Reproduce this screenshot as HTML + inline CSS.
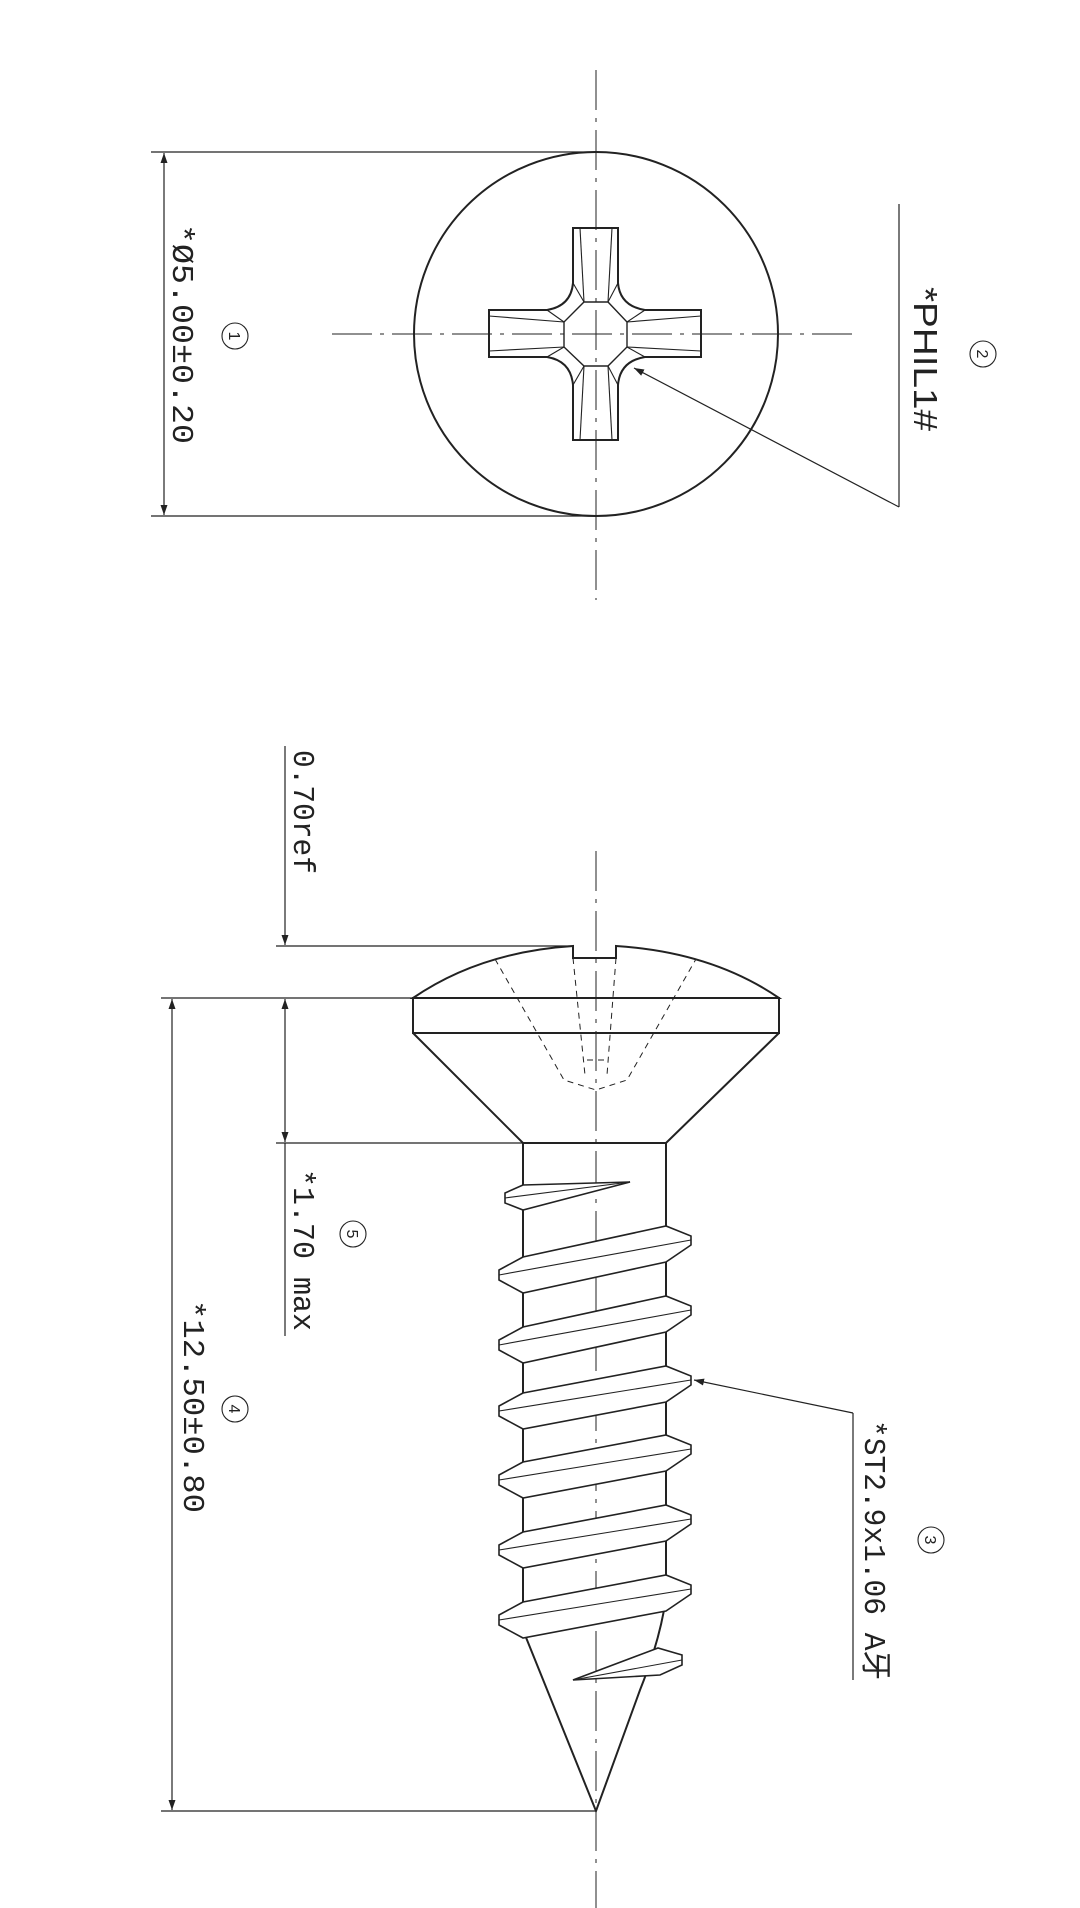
<!DOCTYPE html>
<html><head><meta charset="utf-8"><style>
html,body{margin:0;padding:0;background:#fff;}
svg{display:block;}
text{fill:#222;}
</style></head><body>
<svg width="1080" height="1908" viewBox="0 0 1080 1908" xmlns="http://www.w3.org/2000/svg">
<defs>
<marker id="a" viewBox="0 0 10 10" refX="10" refY="5" markerWidth="10" markerHeight="14" orient="auto-start-reverse" markerUnits="userSpaceOnUse"><path d="M0,1.5 L10,5 L0,8.5 z" fill="#222"/></marker>
</defs>
<g stroke="#222" fill="none" stroke-width="1.6">
<!-- top view -->
<line x1="596" y1="70" x2="596" y2="600" stroke-width="1" stroke-dasharray="40,8,4,8"/>
<line x1="332" y1="334" x2="860" y2="334" stroke-width="1" stroke-dasharray="40,8,4,8"/>
<circle cx="596" cy="334" r="182" stroke-width="2"/>
<path stroke-width="2" d="M573,228 L618,228 L618,283 Q620,306 645,310 L701,310 L701,357 L645,357 Q620,361 618,385 L618,440 L573,440 L573,385 Q571,361 547,357 L489,357 L489,310 L547,310 Q571,306 573,283 Z"/>
<path stroke-width="1.4" d="M584,302 L608,302 L627,322 L627,347 L608,366 L584,366 L564,347 L564,322 Z"/>
<g stroke-width="1.1">
<line x1="580" y1="228" x2="584" y2="302"/><line x1="612" y1="228" x2="608" y2="302"/>
<line x1="580" y1="440" x2="584" y2="366"/><line x1="612" y1="440" x2="608" y2="366"/>
<line x1="489" y1="316" x2="564" y2="322"/><line x1="489" y1="351" x2="564" y2="347"/>
<line x1="701" y1="316" x2="627" y2="322"/><line x1="701" y1="351" x2="627" y2="347"/>
<line x1="573" y1="283" x2="584" y2="302"/><line x1="618" y1="283" x2="608" y2="302"/>
<line x1="573" y1="385" x2="584" y2="366"/><line x1="618" y1="385" x2="608" y2="366"/>
<line x1="547" y1="310" x2="564" y2="322"/><line x1="645" y1="310" x2="627" y2="322"/>
<line x1="547" y1="357" x2="564" y2="347"/><line x1="645" y1="357" x2="627" y2="347"/>
</g>
<line x1="151" y1="152" x2="596" y2="152" stroke-width="1.2"/>
<line x1="151" y1="516" x2="596" y2="516" stroke-width="1.2"/>
<line x1="164" y1="153" x2="164" y2="515" stroke-width="1.2" marker-start="url(#a)" marker-end="url(#a)"/>
<line x1="899" y1="507" x2="634" y2="368" stroke-width="1.2" marker-end="url(#a)"/>
<line x1="899" y1="204" x2="899" y2="507" stroke-width="1.2"/>

<!-- side view -->
<line x1="596" y1="851" x2="596" y2="1908" stroke-width="1" stroke-dasharray="40,8,4,8"/>
<path stroke-width="2" d="M413,998 Q480,952 573,946 L573,958 L616,958 L616,946 Q712,952 779,998 Z"/>
<rect x="413" y="998" width="366" height="35" stroke-width="2"/>
<path stroke-width="2" d="M413,1033 L523,1143 L666,1143 L779,1033"/>
<g stroke-width="1" stroke-dasharray="6,5">
<path d="M495,959 L564,1080 L596,1090 L627,1080 L696,959"/>
<path d="M573,958 L585,1075 M616,958 L607,1075 M587,1060 L605,1060"/>
</g>
<line x1="523" y1="1143" x2="523" y2="1632" stroke-width="2"/>
<line x1="666" y1="1143" x2="666" y2="1600" stroke-width="2"/>
<path stroke-width="2" d="M523,1630 L596,1811 L640,1690 Q660,1640 666,1598"/>
<!-- partial top thread -->
<path stroke-width="1.6" fill="#fff" d="M523,1185 L505,1193 L505,1203 L523,1210 L630,1182 Z"/>
<line x1="505" y1="1198" x2="630" y2="1182" stroke-width="1.1"/>
<!-- threads -->
<g stroke-width="1.6" fill="#fff">
<path d="M523,1257 L499,1270 L499,1280 L523,1293 L666,1262 L691,1245 L691,1236 L666,1226 Z"/>
<path d="M523,1327 L499,1340 L499,1350 L523,1363 L666,1332 L691,1315 L691,1306 L666,1296 Z"/>
<path d="M523,1393 L499,1406 L499,1416 L523,1429 L666,1402 L691,1385 L691,1376 L666,1366 Z"/>
<path d="M523,1462 L499,1475 L499,1485 L523,1498 L666,1471 L691,1454 L691,1445 L666,1435 Z"/>
<path d="M523,1532 L499,1545 L499,1555 L523,1568 L666,1541 L691,1524 L691,1515 L666,1505 Z"/>
<path d="M523,1602 L499,1615 L499,1625 L523,1638 L666,1611 L691,1594 L691,1585 L666,1575 Z"/>
</g>
<g stroke-width="1.1">
<line x1="499" y1="1275" x2="691" y2="1240"/>
<line x1="499" y1="1345" x2="691" y2="1310"/>
<line x1="499" y1="1411" x2="691" y2="1380"/>
<line x1="499" y1="1480" x2="691" y2="1449"/>
<line x1="499" y1="1550" x2="691" y2="1519"/>
<line x1="499" y1="1620" x2="691" y2="1589"/>
</g>
<path stroke-width="1.6" fill="#fff" d="M573,1680 L658,1648 L682,1655 L682,1665 L660,1675 Z"/>
<line x1="573" y1="1680" x2="682" y2="1660" stroke-width="1.1"/>
<!-- dims -->
<g stroke-width="1.2">
<line x1="276" y1="946" x2="573" y2="946"/>
<line x1="161" y1="998" x2="413" y2="998"/>
<line x1="276" y1="1143" x2="523" y2="1143"/>
<line x1="161" y1="1811" x2="596" y2="1811"/>
<line x1="285" y1="746" x2="285" y2="945" marker-end="url(#a)"/>
<line x1="285" y1="999" x2="285" y2="1142" marker-start="url(#a)" marker-end="url(#a)"/>
<line x1="285" y1="1143" x2="285" y2="1336"/>
<line x1="172" y1="999" x2="172" y2="1810" marker-start="url(#a)" marker-end="url(#a)"/>
<line x1="853" y1="1413" x2="694" y2="1380" marker-end="url(#a)"/>
<line x1="853" y1="1413" x2="853" y2="1680"/>
</g>
<!-- circled numbers -->
<g stroke-width="1.1">
<circle cx="235" cy="336" r="13"/><circle cx="983" cy="354" r="13"/>
<circle cx="931" cy="1540" r="13"/><circle cx="235" cy="1409" r="13"/><circle cx="353" cy="1234" r="13"/>
</g>
</g>
<g font-family="Liberation Mono, monospace" font-size="31">
<text transform="translate(173,224) rotate(90)" textLength="220" lengthAdjust="spacingAndGlyphs">*Ø5.00±0.20</text>
<text transform="translate(294,750) rotate(90)" textLength="124" lengthAdjust="spacingAndGlyphs">0.70ref</text>
<text transform="translate(294,1169) rotate(90)" textLength="162" lengthAdjust="spacingAndGlyphs">*1.70 max</text>
<text transform="translate(184,1300) rotate(90)" textLength="213" lengthAdjust="spacingAndGlyphs">*12.50±0.80</text>
<text transform="translate(865,1420) rotate(90)" font-family="Liberation Mono, Noto Sans CJK SC, monospace" textLength="260" lengthAdjust="spacingAndGlyphs">*ST2.9x1.06 A牙</text>
</g>
<text transform="translate(914,287) rotate(90)" font-family="Liberation Sans, sans-serif" font-size="33" textLength="144" lengthAdjust="spacingAndGlyphs">*PHIL1#</text>
<g font-family="Liberation Sans, sans-serif" font-size="16" text-anchor="middle">
<text transform="translate(229,336) rotate(90)">1</text>
<text transform="translate(977,354) rotate(90)">2</text>
<text transform="translate(925,1540) rotate(90)">3</text>
<text transform="translate(229,1409) rotate(90)">4</text>
<text transform="translate(347,1234) rotate(90)">5</text>
</g>
</svg>
</body></html>
